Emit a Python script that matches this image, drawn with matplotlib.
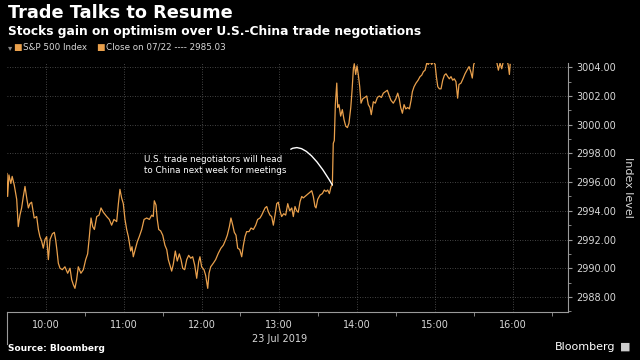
import matplotlib
matplotlib.use("Agg")
import matplotlib.pyplot as plt
from matplotlib.ticker import FixedLocator, MultipleLocator, FormatStrFormatter

# S&P 500 intraday, 23 Jul 2019; x = minutes after 9:30
minutes = [
    0, 0.5, 1.5, 3, 4, 5.6, 7.5, 8.7, 10, 11.3, 12.6, 13.9, 15.2, 16.5, 17.7,
    19, 21, 22.9, 24.2, 25.4, 26.7, 28, 29.3, 30.6, 31.9, 33.2, 35, 36.5, 37.5,
    38.6, 39.6, 40.9, 42.7, 44.7, 46.8, 48.6, 49.9, 51.2, 52.4, 53.7, 55, 57,
    58.9, 60.7, 62.2, 63.5, 64.8, 66.1, 67.4, 69.2, 71, 72.5, 74.3,
    76.9, 78.9, 80.7, 82.5, 84.6, 85.9, 87.1, 88.4, 89.7, 91, 92.3, 93.6, 95.4,
    96.4, 97.4, 98.9, 100.5, 102, 103.9, 105.7, 107.7, 109.8, 111.6, 112.8,
    113.6, 114.9, 115.9, 117, 118.5, 120.1, 121.8, 123.2, 124.4, 125.7, 127,
    128.3, 129.8, 131.3, 132.9, 134.2, 135.5, 137, 138.6, 140.1, 141.7, 143.2,
    144.8, 146.3, 147.8,
    148.8, 150.1, 151.9, 153.2, 154.8, 155.8, 157.1, 159.1, 160.9, 163, 165,
    166.8, 168.7, 169.9, 171.5, 172.7, 174.1, 175.3, 176.6, 177.9, 179.5, 181,
    182.2, 183.5, 184.8, 186.6, 188.2, 190, 191.8, 193.3, 195.1, 196.4, 197.7,
    199, 200.3, 201.5, 202.8, 204.1, 205.4, 206.7, 208, 209.2, 210.5, 211.8,
    213.4, 214.9, 216.5, 218, 219.6,
    220.8, 222.1, 223.4, 224.6, 226, 227.3, 228.5, 229.8, 231.1, 232.4, 233.7,
    235, 236.2, 237.5, 238.3, 239.6, 241.4, 243.2, 244.7, 246, 247.3, 248.6,
    249.9, 250.9, 251.6, 252.4, 253.2, 254.3, 255, 256, 257.3, 258.6, 259.9,
    261.2, 262.5, 263.7, 265.1, 266.1, 267.1, 267.8, 268.9, 269.9, 270.9, 272,
    273, 274.3, 275.9, 277.4, 278.6, 279.9, 280.9, 282.5, 284, 285.6, 287.1,
    288.7, 290.2, 291.8, 293.3,
    294.8, 296.1, 297.9, 299.8, 301.3, 302.5, 303.6, 304.9, 306.2, 307.5, 309,
    310.3, 311.6, 312.6, 313.9, 315.4, 317, 318.5, 319.8, 321.1, 322.4, 323.7,
    324.9, 326.2, 327.5, 328.8, 330.1, 331.1, 332.2, 333.4, 334.7, 336, 337.3,
    338.5, 339.9, 341.1, 342.4, 343.7, 344.9, 346.2, 347.5, 348.5, 350.1,
    351.6, 353.2, 354.7, 356.3, 357.6, 358.8, 359.9, 360.9, 363, 366, 369, 372,
    375, 377.6, 378.9, 380.2, 381.5, 382.7, 384.5, 386.6, 387.4, 388,
]
level = [
    2996.6, 2995.0, 2996.5, 2995.9, 2996.4, 2995.8, 2994.8, 2992.9, 2993.7,
    2994.2, 2995.0, 2995.7, 2994.9, 2994.2, 2994.5, 2994.6, 2993.5, 2993.6,
    2992.7, 2992.2, 2991.9, 2991.4, 2992.0, 2992.2, 2990.6, 2992.0, 2992.4,
    2992.5, 2992.0, 2991.2, 2990.35, 2990.0, 2989.9, 2990.1, 2989.65, 2990.0,
    2989.2, 2988.85, 2988.6, 2989.2, 2990.1, 2989.65, 2989.9, 2990.6, 2991.0,
    2992.2, 2993.5, 2992.9, 2992.7, 2993.6, 2993.7, 2994.2, 2993.9,
    2993.6, 2993.4, 2993.0, 2993.4, 2993.25, 2994.5, 2995.5, 2994.9, 2994.5,
    2993.4, 2992.7, 2992.2, 2991.2, 2991.5, 2990.8, 2991.3, 2991.85, 2992.2,
    2992.7, 2993.4, 2993.5, 2993.4, 2993.7, 2993.6, 2994.7, 2994.4, 2993.4,
    2992.7, 2992.6, 2992.3, 2991.6, 2991.3, 2990.6, 2990.2, 2989.8, 2990.3,
    2991.2, 2990.5, 2991.0, 2990.6, 2990.0, 2989.9, 2990.6, 2990.9, 2990.7,
    2990.8, 2990.2, 2989.3, 2990.45,
    2990.8, 2990.1, 2989.9, 2989.5, 2988.6, 2989.65, 2990.1, 2990.35, 2990.6,
    2991.05, 2991.4, 2991.6, 2992.0, 2992.3, 2992.9, 2993.5, 2993.0, 2992.5,
    2992.3, 2991.4, 2991.3, 2990.8, 2991.55, 2992.2, 2992.55, 2992.55, 2992.8,
    2992.7, 2993.0, 2993.4, 2993.5, 2993.7, 2993.95, 2994.2, 2994.3, 2993.95,
    2993.7, 2993.6, 2993.0, 2993.7, 2994.5, 2994.6, 2994.0, 2993.6, 2993.8,
    2993.7, 2994.5, 2994.0, 2994.2,
    2993.6, 2994.3, 2994.0, 2993.9, 2994.65, 2995.0, 2994.9, 2995.0, 2995.1,
    2995.2, 2995.3, 2995.4, 2995.0, 2994.3, 2994.2, 2994.8, 2995.1, 2995.2,
    2995.45, 2995.35, 2995.45, 2995.2, 2995.7, 2995.8, 2998.7, 2998.9, 3001.4,
    3002.9, 3001.2, 3001.4, 3000.6, 3001.05, 3000.35, 2999.9, 2999.8, 3000.1,
    3001.2, 3002.4, 3003.9, 3004.25, 3003.5, 3004.1, 3003.5, 3002.65, 3001.5,
    3001.8, 3001.9, 3002.0, 3001.4, 3001.2, 3000.7, 3001.6, 3001.5, 3001.9,
    3002.0, 3001.9, 3002.2, 3002.3, 3002.4,
    3002.0, 3001.7, 3001.5, 3001.8, 3002.2, 3001.8, 3001.2, 3000.8, 3001.4,
    3001.1, 3001.2, 3001.1, 3001.7, 3002.3, 3002.65, 3002.9, 3003.1, 3003.35,
    3003.45, 3003.7, 3003.8, 3004.3, 3004.2, 3004.4, 3004.2, 3004.4, 3004.2,
    3003.35, 3002.65, 3002.5, 3002.5, 3003.1, 3003.45, 3003.55, 3003.35,
    3003.2, 3003.35, 3003.1, 3003.2, 3003.0, 3001.85, 3002.8, 3002.9, 3003.2,
    3003.55, 3003.8, 3004.05, 3003.7, 3003.25, 3004.2, 3004.4, 3004.9, 3005.1,
    3004.8, 3005.2, 3004.9, 3004.4, 3003.8, 3004.3, 3003.9, 3004.4, 3005.0,
    3004.1, 3003.5, 3004.2,
]
prev_close = 2985.03

hour_ticks = [30, 90, 150, 210, 270, 330, 390]
hour_labels = ["10:00", "11:00", "12:00", "13:00", "14:00", "15:00", "16:00"]
half_hour_ticks = [60, 120, 180, 240, 300, 360, 420]
y_ticks = [2988, 2990, 2992, 2994, 2996, 2998, 3000, 3002, 3004]

news_time = 250.9
news_level = 2995.8
note = "U.S. trade negotiators will head\nto China next week for meetings"

orange = "#e9a04c"
light = "#d8d8d8"
grid_c = "#5a5a5a"

fig = plt.figure(figsize=(6.4, 3.6), dpi=100, facecolor="black")
ax = fig.add_axes([0.0109, 0.1333, 0.8766, 0.6917])
ax.set_facecolor("black")

ax.plot(minutes, level, color=orange, lw=0.9)
ax.axhline(prev_close, color=orange, lw=0.8, ls="--")

ax.set_xlim(0, 432.6)
ax.set_ylim(2986.95, 3004.3)

# axes styling
for side in ["top", "left"]:
    ax.spines[side].set_visible(False)
for side in ["right", "bottom"]:
    ax.spines[side].set_color("#9a9a9a")
    ax.spines[side].set_linewidth(0.8)

ax.xaxis.set_major_locator(FixedLocator(hour_ticks))
ax.xaxis.set_minor_locator(FixedLocator(half_hour_ticks))
ax.set_xticklabels(hour_labels)
ax.tick_params(axis="x", which="major", length=0, pad=6, labelsize=7,
               labelcolor=light)
ax.tick_params(axis="x", which="minor", length=3, color="#9a9a9a", direction="out")

ax.yaxis.tick_right()
ax.yaxis.set_label_position("right")
ax.yaxis.set_major_locator(FixedLocator(y_ticks))
ax.yaxis.set_minor_locator(MultipleLocator(1))
ax.yaxis.set_major_formatter(FormatStrFormatter("%.2f"))
ax.tick_params(axis="y", which="major", length=3, pad=3, labelsize=7,
               labelcolor=light, color="#9a9a9a")
ax.tick_params(axis="y", which="minor", length=2, color="#9a9a9a")
ax.set_ylabel("Index level", color=light, fontsize=8, rotation=270, labelpad=12)

ax.grid(True, which="major", color=grid_c, lw=0.6, ls=(0, (1, 2)))

# start-of-session marker below the axis
ax.plot([0, 0], [0, -0.13], color="#9a9a9a", lw=0.8,
        transform=ax.get_xaxis_transform(), clip_on=False)
ax.text(210, -0.11, "23 Jul 2019", transform=ax.get_xaxis_transform(),
        ha="center", va="center", color=light, fontsize=7)

# news annotation
ax.annotate(note, xy=(news_time, news_level), xytext=(106, 2997.2),
            ha="left", va="center", color="white", fontsize=6.3,
            linespacing=1.35,
            arrowprops=dict(arrowstyle="-", color="white", lw=1.0,
                            connectionstyle="angle3,angleA=60,angleB=120",
                            relpos=(0.98, 0.9), shrinkA=3, shrinkB=0))

# headings
fig.text(0.0125, 0.949, "Trade Talks to Resume", color="white",
         fontsize=12.8, fontweight="bold", va="baseline")
fig.text(0.0125, 0.903, "Stocks gain on optimism over U.S.-China trade negotiations",
         color="white", fontsize=8.8, fontweight="bold", va="baseline")

# legend row
fig.text(0.012, 0.869, "\u25be", color="#888888", fontsize=6, va="center")
fig.text(0.021, 0.869, "\u25a0", color=orange, fontsize=6.5, va="center")
fig.text(0.036, 0.869, "S&P 500 Index", color=light, fontsize=6.3, va="center")
fig.text(0.150, 0.869, "\u25a0", color=orange, fontsize=6.5, va="center")
fig.text(0.165, 0.869, "Close on 07/22 ---- 2985.03", color=light, fontsize=6.3,
         va="center")

# footer
fig.text(0.0125, 0.033, "Source: Bloomberg", color="white", fontsize=6.5,
         fontweight="bold", va="center")
fig.text(0.962, 0.036, "Bloomberg", color="white", fontsize=8, ha="right",
         va="center")
fig.text(0.968, 0.036, "\u25a0", color="#cccccc", fontsize=8, va="center")

fig.savefig("out.png", dpi=100, facecolor="black")
